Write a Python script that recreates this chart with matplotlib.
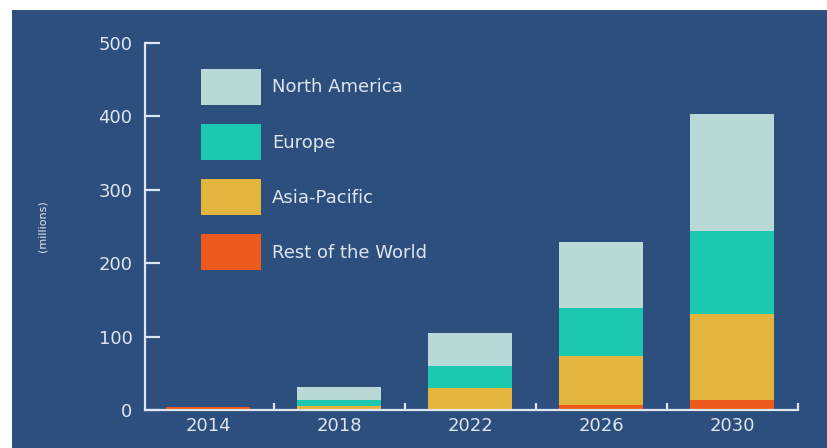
import matplotlib.pyplot as plt
from matplotlib.patches import Rectangle
import numpy as np

years = ['2014', '2018', '2022', '2026', '2030']
regions = ['North America', 'Europe', 'Asia-Pacific', 'Rest of the World']
rest = [3.5, 0.5, 1, 7, 14]
asia = [1, 5.5, 28.5, 67, 117]
europe = [0, 7, 31, 65, 113]
north_america = [0, 19, 45, 90, 159]

colors = {'North America': '#b9d9d7', 'Europe': '#1cc8b0',
          'Asia-Pacific': '#e3b43e', 'Rest of the World': '#ec5b1c'}
bg = '#2d4f7e'
fg = '#dfe5f1'

fig = plt.figure(figsize=(8.27, 4.48), dpi=100)
fig.patches.append(Rectangle((12 / 827, 0), 1, 1 - 10 / 448, transform=fig.transFigure,
                             facecolor=bg, edgecolor='none', zorder=-10))
ax = fig.add_axes([145 / 827, 38 / 448, 653 / 827, 367 / 448])
ax.set_facecolor('none')

x = np.arange(len(years))
w = 0.64
bottom = np.zeros(len(years))
handles = {}
for name, vals in [('Rest of the World', rest), ('Asia-Pacific', asia),
                   ('Europe', europe), ('North America', north_america)]:
    b = ax.bar(x, vals, w, bottom=bottom, color=colors[name], edgecolor='none', zorder=2)
    handles[name] = b
    bottom += np.array(vals)

ax.set_xlim(-0.48, 4.5)
ax.set_ylim(0, 500)

for s in ['top', 'right']:
    ax.spines[s].set_visible(False)
for s in ['left', 'bottom']:
    ax.spines[s].set_color(fg)
    ax.spines[s].set_linewidth(1.6)
    ax.spines[s].set_zorder(3)

ax.set_yticks([0, 100, 200, 300, 400, 500])
ax.tick_params(axis='y', direction='in', length=11, width=1.6, colors=fg,
               labelsize=13, pad=9)
ax.set_xticks(x)
ax.set_xticklabels(years)
ax.tick_params(axis='x', length=0, colors=fg, labelsize=13, pad=5)
ax.set_xticks(x + 0.5, minor=True)
ax.tick_params(axis='x', which='minor', direction='in', length=5, width=1.6, color=fg)

ax.set_ylabel('(millions)', color=fg, fontsize=8)
ax.yaxis.set_label_coords(-0.149, 0.5)

leg = ax.legend([handles[r] for r in regions], regions, loc='upper left',
                bbox_to_anchor=(0.0858, 0.929), frameon=False, fontsize=13,
                handlelength=3.32, handleheight=2.69, labelspacing=1.06,
                handletextpad=0.61, borderpad=0, borderaxespad=0)
for t in leg.get_texts():
    t.set_color(fg)

fig.savefig('out.png', dpi=100, facecolor='white')
